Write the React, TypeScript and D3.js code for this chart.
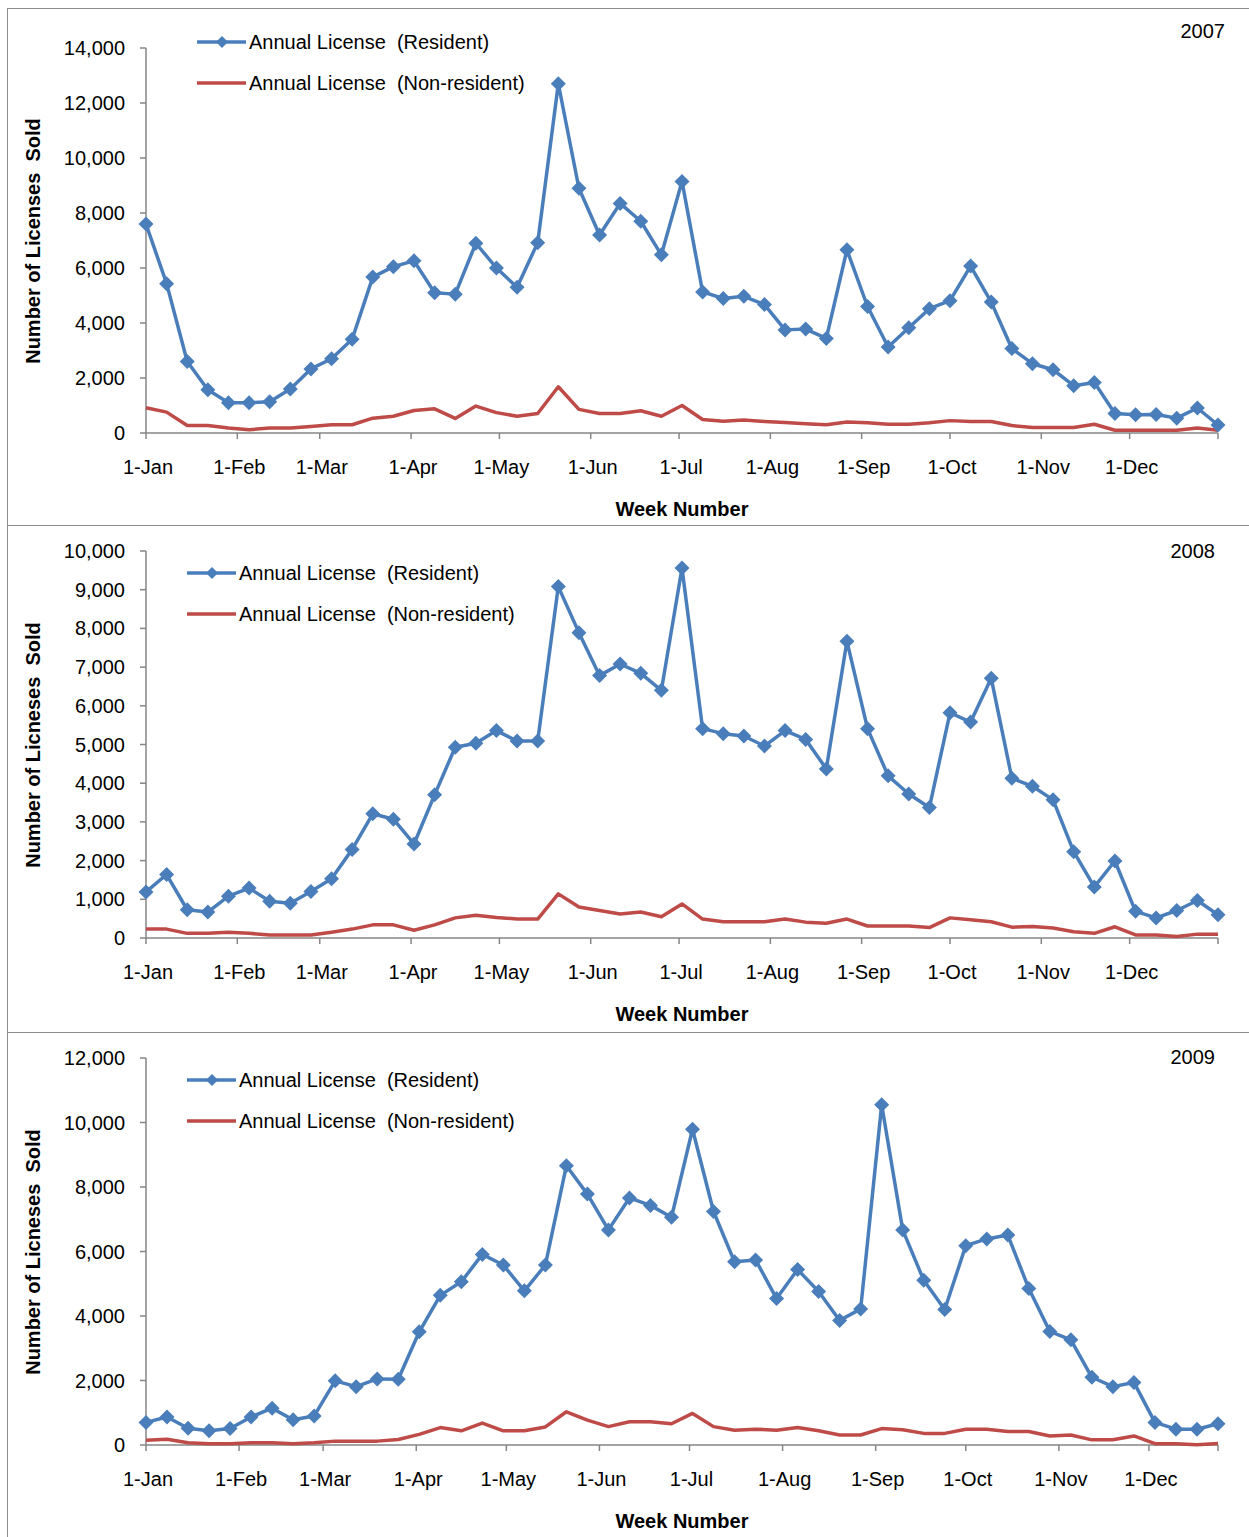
import React from "react";
import * as d3 from "d3";

const resident2007 = [7600,5430,2600,1570,1100,1100,1140,1600,2330,2700,3410,5670,6050,6260,
  5100,5050,6900,6000,5300,6920,12700,8900,7200,8350,7700,6480,9150,5130,4890,4970,4670,3750,3780,
  3440,6660,4600,3130,3830,4520,4810,6070,4760,3070,2520,2300,1720,1840,710,660,675,540,910,290];
const nonResident2007 = [920,760,270,270,180,120,180,180,240,300,300,540,610,820,
  880,530,980,740,610,710,1680,860,710,710,810,610,1000,490,430,470,420,380,340,
  300,400,370,320,320,370,450,420,420,270,200,200,200,320,100,100,100,100,180,100];

const resident2008 = [1190,1640,730,670,1080,1290,950,900,1200,1530,2290,3210,3070,2430,
  3700,4930,5030,5360,5090,5090,9080,7890,6780,7080,6840,6400,9560,5410,5280,5220,4960,5360,5130,
  4370,7670,5410,4190,3720,3370,5820,5580,6710,4130,3920,3570,2230,1320,1990,690,520,710,970,600];
const nonResident2008 = [230,230,120,120,150,120,80,80,80,150,230,340,340,200,
  340,520,590,530,490,490,1140,800,710,620,670,550,880,490,420,420,420,490,410,
  380,490,310,310,310,270,520,470,420,280,300,260,160,120,290,80,80,40,100,100];

const resident2009 = [700,870,520,440,510,870,1140,780,900,1990,1810,2050,2040,3510,
  4640,5060,5910,5580,4780,5580,8660,7780,6670,7660,7430,7060,9790,7240,5680,5740,4540,5440,4760,
  3860,4220,10550,6670,5110,4200,6180,6390,6510,4850,3520,3260,2100,1810,1940,700,490,490,660];
const nonResident2009 = [150,180,70,40,40,70,70,40,70,120,120,120,170,330,
  540,440,680,440,440,560,1030,770,570,720,720,660,980,570,460,490,460,540,440,
  310,310,510,470,360,360,490,490,420,420,280,310,160,160,280,40,40,10,50];

const yearLabels = ["2007", "2008", "2009"];
const axisYears = [2007, 2007, 2009];
const yMaxes = [14000, 10000, 12000];
const ySteps = [2000, 1000, 2000];
const yTitles = ["Number of Licenses  Sold", "Number of Licneses  Sold", "Number of Licneses  Sold"];
const seriesNames = ["Annual License  (Resident)", "Annual License  (Non-resident)"];
const xTitle = "Week Number";
const monthNames = ["Jan","Feb","Mar","Apr","May","Jun","Jul","Aug","Sep","Oct","Nov","Dec"];

const BLUE = "#4A7EBB";
const RED = "#BE4B48";
const AXIS = "#868686";
const FONT = "'Liberation Sans', Arial, Helvetica, sans-serif";

const layouts = [
  { top: 8, bottom: 525, yTop: 48, y0: 433, legX: 197, legY: [42, 83], yearX: 1225, yearY: 38, yTitleY: 241, xTitleY: 516, tickY: 474 },
  { top: 525, bottom: 1032, yTop: 551, y0: 938, legX: 187, legY: [573, 614], yearX: 1215, yearY: 558, yTitleY: 745, xTitleY: 1021, tickY: 979 },
  { top: 1032, bottom: 1545, yTop: 1058, y0: 1445, legX: 187, legY: [1080, 1121], yearX: 1215, yearY: 1064, yTitleY: 1252, xTitleY: 1528, tickY: 1486 },
];

const DAY = 86400000;
const diamond = (r: number) => `M0,${-r}L${r},0L0,${r}L${-r},0Z`;

function Panel({ idx, res, non }: { idx: number; res: number[]; non: number[] }) {
  const L = layouts[idx];
  const year = axisYears[idx];
  const start = new Date(Date.UTC(year, 0, 1));
  const end = new Date(start.getTime() + (res.length - 1) * 7 * DAY);
  const x = d3.scaleUtc().domain([start, end]).range([146, 1218]);
  const y = d3.scaleLinear().domain([0, yMaxes[idx]]).range([L.y0, L.yTop]);
  const dates = res.map((_, i) => new Date(start.getTime() + i * 7 * DAY));
  const line = d3.line<number>().x((_, i) => x(dates[i])).y((v) => y(v));
  const yTicks = d3.range(0, yMaxes[idx] + 1, ySteps[idx]);
  const monthTicks = monthNames.map((_, m) => new Date(Date.UTC(year, m, 1)));
  const fmt = d3.format(",");
  return (
    <g>
      <rect x={7.5} y={L.top + 0.5} width={1260} height={L.bottom - L.top} fill="#fff" stroke="#8c8c8c" strokeWidth={1} />
      {/* axes */}
      <line x1={146} x2={146} y1={L.yTop} y2={L.y0} stroke={AXIS} strokeWidth={1.5} />
      <line x1={146} x2={1218} y1={L.y0} y2={L.y0} stroke={AXIS} strokeWidth={1.5} />
      {yTicks.map((t) => (
        <g key={t}>
          <line x1={140} x2={146} y1={y(t)} y2={y(t)} stroke={AXIS} strokeWidth={1.5} />
          <text x={125} y={y(t) + 7} textAnchor="end" fontSize={20} fontFamily={FONT} fill="#000">{fmt(t)}</text>
        </g>
      ))}
      {monthTicks.map((d, m) => (
        <g key={m}>
          <line x1={x(d)} x2={x(d)} y1={L.y0} y2={L.y0 + 6} stroke={AXIS} strokeWidth={1.5} />
          <text x={x(d) + 2} y={L.tickY} textAnchor="middle" fontSize={20} fontFamily={FONT} fill="#000">{`1-${monthNames[m]}`}</text>
        </g>
      ))}
      <line x1={x(end)} x2={x(end)} y1={L.y0} y2={L.y0 + 6} stroke={AXIS} strokeWidth={1.5} />
      {/* series */}
      <path d={line(non) || ""} fill="none" stroke={RED} strokeWidth={3.5} strokeLinejoin="round" />
      <path d={line(res) || ""} fill="none" stroke={BLUE} strokeWidth={3.5} strokeLinejoin="round" />
      {res.map((v, i) => (
        <path key={i} d={diamond(7.5)} transform={`translate(${x(dates[i])},${y(v)})`} fill={BLUE} />
      ))}
      {/* legend */}
      <line x1={L.legX} x2={L.legX + 49} y1={L.legY[0]} y2={L.legY[0]} stroke={BLUE} strokeWidth={3.5} />
      <path d={diamond(6)} transform={`translate(${L.legX + 25},${L.legY[0]})`} fill={BLUE} />
      <text x={L.legX + 52} y={L.legY[0] + 7} fontSize={20} fontFamily={FONT} fill="#000" style={{ whiteSpace: "pre" }}>{seriesNames[0]}</text>
      <line x1={L.legX} x2={L.legX + 49} y1={L.legY[1]} y2={L.legY[1]} stroke={RED} strokeWidth={3.5} />
      <text x={L.legX + 52} y={L.legY[1] + 7} fontSize={20} fontFamily={FONT} fill="#000" style={{ whiteSpace: "pre" }}>{seriesNames[1]}</text>
      {/* titles */}
      <text x={L.yearX} y={L.yearY} textAnchor="end" fontSize={20} fontFamily={FONT} fill="#000">{yearLabels[idx]}</text>
      <text transform={`translate(40,${L.yTitleY}) rotate(-90)`} textAnchor="middle" fontSize={20} fontWeight="bold" fontFamily={FONT} fill="#000" style={{ whiteSpace: "pre" }}>{yTitles[idx]}</text>
      <text x={682} y={L.xTitleY} textAnchor="middle" fontSize={20} fontWeight="bold" fontFamily={FONT} fill="#000">{xTitle}</text>
    </g>
  );
}

export default function App() {
  return (
    <svg width={1249} height={1537} style={{ position: "absolute", left: 0, top: 0, background: "#fff" }}>
      <Panel idx={0} res={resident2007} non={nonResident2007} />
      <Panel idx={1} res={resident2008} non={nonResident2008} />
      <Panel idx={2} res={resident2009} non={nonResident2009} />
    </svg>
  );
}
